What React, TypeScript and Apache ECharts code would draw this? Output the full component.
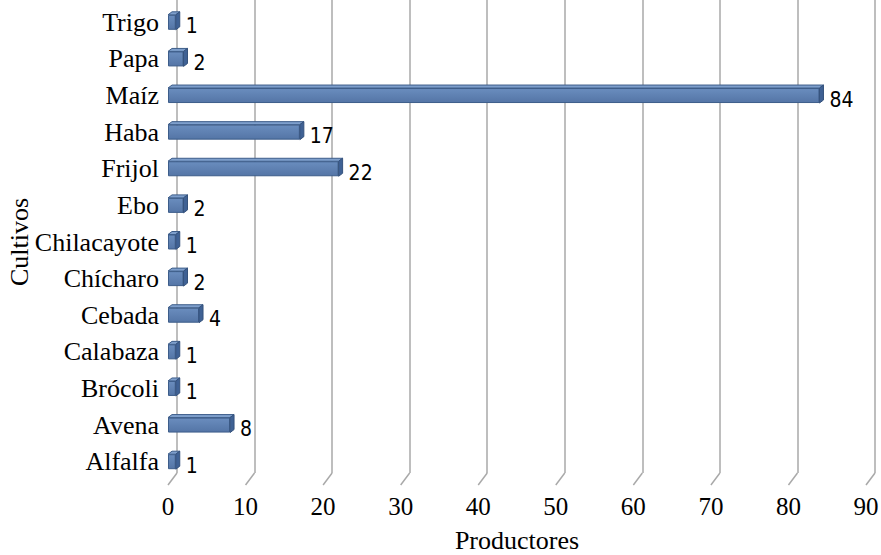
import React, { useEffect, useRef } from "react";
import * as echarts from "echarts";

const categories = [
  "Alfalfa",
  "Avena",
  "Brócoli",
  "Calabaza",
  "Cebada",
  "Chícharo",
  "Chilacayote",
  "Ebo",
  "Frijol",
  "Haba",
  "Maíz",
  "Papa",
  "Trigo",
];
const productores = [1, 8, 1, 1, 4, 2, 1, 2, 22, 17, 84, 2, 1];
const xTicks = [0, 10, 20, 30, 40, 50, 60, 70, 80, 90];

export default function App() {
  const ref = useRef<HTMLDivElement>(null);
  useEffect(() => {
    if (!ref.current) return;
    const chart = echarts.init(ref.current, null, { renderer: "svg" });
    const serif = "'Liberation Serif', 'Times New Roman', serif";
    const narrow = "'DejaVu Sans Condensed', Roboto, 'Liberation Sans', sans-serif";
    const gridColor = "#a9a9a9";
    const D = 4; // depth x
    const H = 3; // depth y
    const BH = 15; // bar height
    chart.setOption({
      animation: false,
      backgroundColor: "#ffffff",
      grid: [
        { left: 168, right: 15, top: 4, bottom: 75, outerBoundsMode: "none", containLabel: false },
        { left: 177, right: 6, top: 0, bottom: 82, outerBoundsMode: "none", containLabel: false },
      ],
      xAxis: [
        {
          type: "value",
          gridIndex: 0,
          min: 0,
          max: 90,
          interval: 10,
          axisLine: { show: false },
          axisTick: { show: false },
          splitLine: { show: false },
          axisLabel: {
            fontFamily: serif,
            fontSize: 25,
            color: "#000",
            margin: 14,
          },
          name: "Productores",
          nameLocation: "middle",
          nameGap: 47,
          nameTextStyle: { fontFamily: serif, fontSize: 26, color: "#000" },
        },
        {
          type: "value",
          gridIndex: 1,
          min: 0,
          max: 90,
          interval: 10,
          axisLine: { show: false },
          axisTick: { show: false },
          axisLabel: { show: false },
          splitLine: { show: true, lineStyle: { color: gridColor, width: 1.5 } },
        },
      ],
      yAxis: [
        {
          type: "category",
          gridIndex: 0,
          data: categories,
          axisLine: { show: false },
          axisTick: { show: false },
          axisLabel: {
            fontFamily: serif,
            fontSize: 26,
            color: "#000",
            margin: 9,
          },
          name: "Cultivos",
          nameLocation: "middle",
          nameGap: 136,
          nameMoveOverlap: false,
          nameTextStyle: { fontFamily: serif, fontSize: 26, color: "#000" },
        },
        {
          type: "category",
          gridIndex: 1,
          data: categories,
          show: false,
        },
      ],
      series: [
        {
          type: "custom",
          xAxisIndex: 0,
          yAxisIndex: 0,
          data: xTicks.map((v) => [v, 0]),
          silent: true,
          z: 1,
          renderItem: (params: any, api: any) => {
            const cs = params.coordSys;
            const x = api.coord([api.value(0), 0])[0];
            const yb = cs.y + cs.height;
            return {
              type: "line",
              shape: { x1: x, y1: yb + 5, x2: x + 9, y2: yb - 7 },
              style: { stroke: gridColor, lineWidth: 1.5 },
            };
          },
        },
        {
          type: "bar",
          xAxisIndex: 0,
          yAxisIndex: 0,
          data: productores,
          barWidth: BH,
          z: 3,
          itemStyle: {
            color: new echarts.graphic.LinearGradient(0, 0, 0, 1, [
              { offset: 0, color: "#6a8dbe" },
              { offset: 1, color: "#5475a6" },
            ]),
            borderColor: "#3d5d8a",
            borderWidth: 1,
          },
          label: {
            show: true,
            position: "right",
            distance: 10,
            offset: [0, 4],
            fontFamily: narrow,
            fontSize: 21,
            color: "#000",
          },
        },
        {
          type: "custom",
          xAxisIndex: 0,
          yAxisIndex: 0,
          data: productores.map((v, i) => [v, i]),
          silent: true,
          z: 4,
          renderItem: (params: any, api: any) => {
            const p1 = api.coord([api.value(0), api.value(1)]);
            const p0 = api.coord([0, api.value(1)]);
            const top = p1[1] - BH / 2;
            const bot = p1[1] + BH / 2;
            return {
              type: "group",
              children: [
                {
                  type: "polygon",
                  shape: {
                    points: [
                      [p0[0], top],
                      [p0[0] + D, top - H],
                      [p1[0] + D, top - H],
                      [p1[0], top],
                    ],
                  },
                  style: { fill: "#7e9fcc", stroke: "#3d5d8a", lineWidth: 1 },
                },
                {
                  type: "polygon",
                  shape: {
                    points: [
                      [p1[0], top],
                      [p1[0] + D, top - H],
                      [p1[0] + D, bot - H],
                      [p1[0], bot],
                    ],
                  },
                  style: { fill: "#3f6194", stroke: "#35527c", lineWidth: 1 },
                },
              ],
            };
          },
        },
      ],
    });
    return () => chart.dispose();
  }, []);
  return (
    <div
      ref={ref}
      style={{ position: "absolute", left: 0, top: 0, width: 881, height: 555 }}
    />
  );
}
